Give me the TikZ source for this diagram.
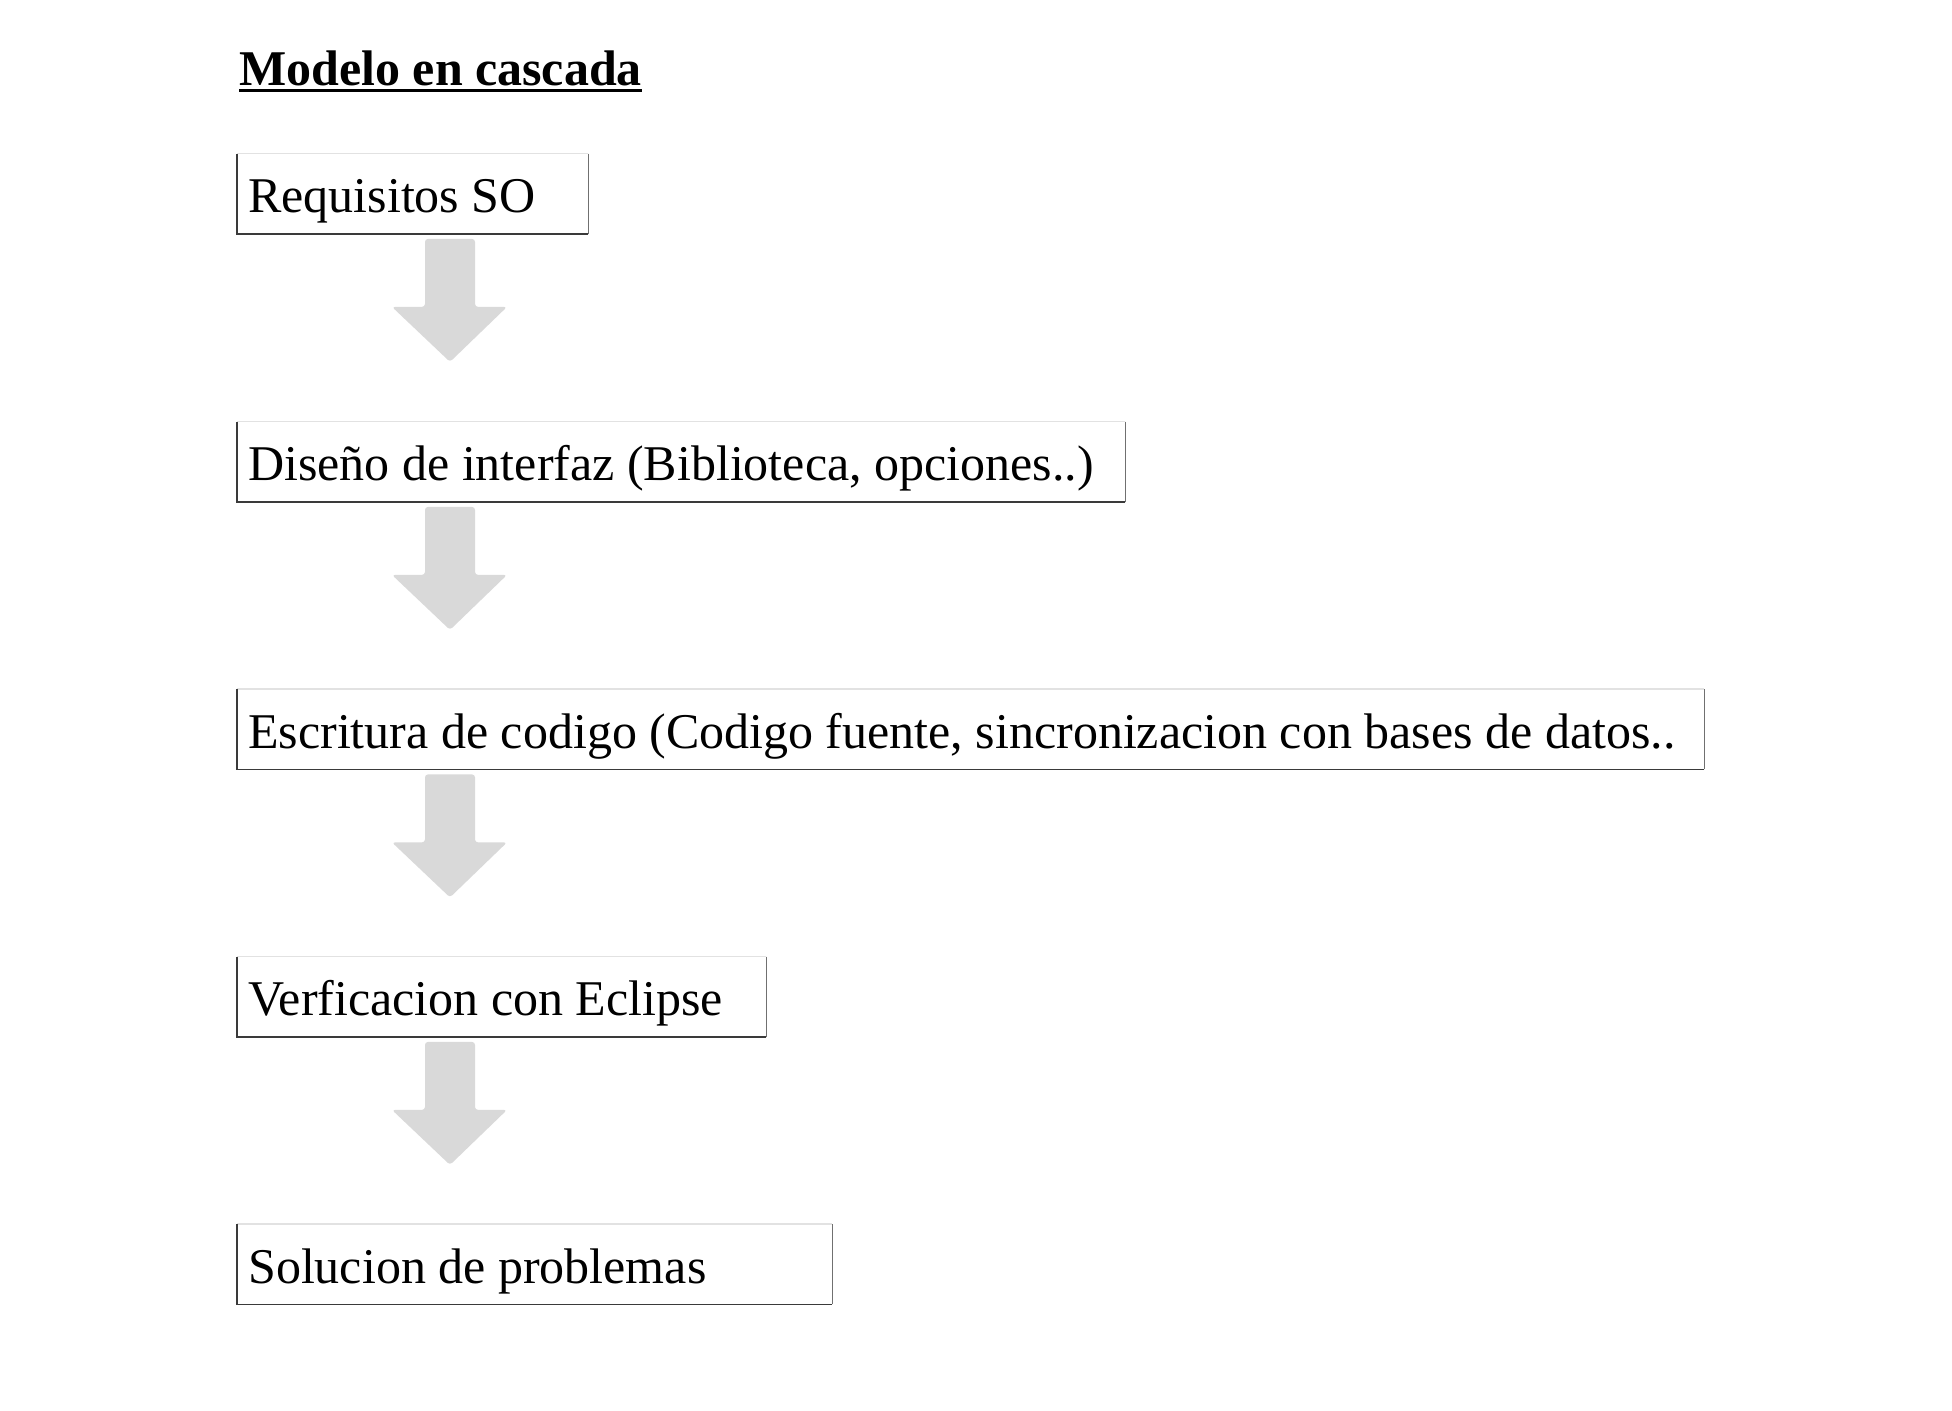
\documentclass[tikz,border=0pt]{standalone}
\usepackage{fontspec}
\setmainfont{Liberation Serif}
\usetikzlibrary{calc}
\definecolor{arrowgrey}{HTML}{D9D9D9}
\definecolor{edgedark}{HTML}{3A3A3A}
\definecolor{edgeside}{HTML}{707070}
\definecolor{edgelight}{HTML}{E2E2E2}
\tikzset{
  stagebox/.style={rectangle, anchor=north west, inner sep=0pt, minimum height=80pt},
  stagetext/.style={anchor=base west, inner sep=0pt, font=\fontsize{50}{60}\selectfont},
  darkedge/.style={draw=edgedark, line width=1.5pt},
  sideedge/.style={draw=edgeside, line width=1.5pt},
  lightedge/.style={draw=edgelight, line width=1.5pt},
  blockarrow/.style={fill=arrowgrey, rounded corners=3pt},
}
\newcommand{\stageframe}[1]{%
  \draw[lightedge] (#1.north west) -- (#1.north east);
  \draw[sideedge] (#1.north east) -- (#1.south east);
  \draw[darkedge] (#1.south east) -- (#1.south west) -- (#1.north west);
}
\newcommand{\stagearrow}[1]{%
  \fill[blockarrow, shift={(#1.south west)}] (188,5) -- (238,5) -- (238,73) -- (270,73)
    -- (213,128) -- (155,73) -- (188,73) -- cycle;
}
\begin{document}
\begin{tikzpicture}[x=1pt, y=-1pt]
\useasboundingbox[fill=white] (0,0) rectangle (1952,1411);
\node[anchor=base west, inner sep=0pt, font=\fontsize{50}{60}\selectfont\bfseries] (title) at (239,85) {Modelo en cascada};
\draw[line width=3pt] ([yshift=-5pt]title.base west) -- ([yshift=-5pt]title.base east);

\node[stagebox, minimum width=351pt] (b1) at (237,153.5) {};
\node[stagebox, minimum width=888pt] (b2) at (237,421.5) {};
\node[stagebox, minimum width=1467pt] (b3) at (237,689) {};
\node[stagebox, minimum width=529pt] (b4) at (237,956.5) {};
\node[stagebox, minimum width=595pt] (b5) at (237,1224) {};

\node[stagetext] (t1) at ($(b1.north west)+(11,59)$) {Requisitos SO};
\node[stagetext] (t2) at ($(b2.north west)+(11,59)$) {Diseño de interfaz (Biblioteca, opciones..)};
\node[stagetext] (t3) at ($(b3.north west)+(11,59)$) {Escritura de codigo (Codigo fuente, sincronizacion con bases de datos..};
\node[stagetext] (t4) at ($(b4.north west)+(11,59)$) {Verficacion con Eclipse};
\node[stagetext] (t5) at ($(b5.north west)+(11,59)$) {Solucion de problemas};

\stageframe{b1}
\stageframe{b2}
\stageframe{b3}
\stageframe{b4}
\stageframe{b5}

\stagearrow{b1}
\stagearrow{b2}
\stagearrow{b3}
\stagearrow{b4}
\end{tikzpicture}
\end{document}
